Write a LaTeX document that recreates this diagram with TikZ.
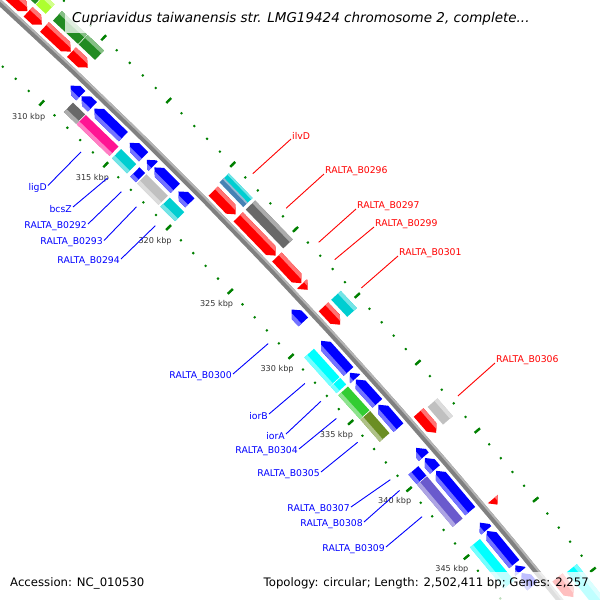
\documentclass[tikz,border=0pt]{standalone}
\usepackage{fontspec}
\setmainfont{DejaVu Sans}
\usetikzlibrary{calc}
\definecolor{cogblue}{RGB}{0,0,255}
\definecolor{cogred}{RGB}{255,0,0}
\definecolor{forest}{RGB}{34,139,34}
\definecolor{yellowgr}{RGB}{173,255,47}
\definecolor{dimgr}{RGB}{105,105,105}
\definecolor{deeppink}{RGB}{255,20,147}
\definecolor{turq}{RGB}{0,206,209}
\definecolor{aqua}{RGB}{0,255,255}
\definecolor{silvergr}{RGB}{192,192,192}
\definecolor{steel}{RGB}{70,130,180}
\definecolor{limegr}{RGB}{50,205,50}
\definecolor{olivedr}{RGB}{107,142,35}
\definecolor{slate}{RGB}{106,90,205}
\definecolor{tickgreen}{RGB}{0,128,0}
\definecolor{bbdark}{RGB}{128,128,128}
\definecolor{bblight}{RGB}{180,180,180}
\pgfmathdeclarefunction{kpos}{1}{\pgfmathparse{0.1943*(#1-315)}}
\tikzset{
  every picture/.append style={line join=round},
  backbone/.style={draw=bbdark,line width=6pt},
  backbone hi/.style={draw=bblight,line width=2pt},
  minor tick/.style={draw=tickgreen,line width=2pt,line cap=butt},
  major tick/.style={draw=tickgreen,line width=2.4pt,line cap=butt},
  kbp label/.style={font=\fontsize{8.1}{10}\selectfont,text=black!80,inner sep=0pt},
  gene label/.style={font=\fontsize{9.3}{11}\selectfont,inner sep=1pt},
  rev label/.style={gene label,text=cogblue,anchor=east},
  fwd label/.style={gene label,text=cogred,anchor=west},
  rev line/.style={draw=cogblue,line width=0.9pt},
  fwd line/.style={draw=cogred,line width=0.9pt},
  haze/.style={fill=white,opacity=0.75}
}
% box: from, to, radius next to backbone, outer radius, colour
\newcommand{\genebox}[5]{%
  \pgfmathsetmacro{\kA}{kpos(#1)}\pgfmathsetmacro{\kB}{kpos(#2)}%
  \pgfmathsetmacro{\rH}{#4-0.3*(#4-#3)}%
  \fill[#5] (\kA:#3) -- (\kB:#3) -- (\kB:#4) -- (\kA:#4) -- cycle;
  \fill[#5!55!white] (\kA:\rH) -- (\kB:\rH) -- (\kB:#4) -- (\kA:#4) -- cycle;}
% arrow pointing to #2
\newcommand{\fwdgene}[5]{%
  \pgfmathsetmacro{\kA}{kpos(#1)}\pgfmathsetmacro{\kB}{kpos(#2)}%
  \pgfmathsetmacro{\kC}{kpos(max(#1,#2-0.4))}%
  \pgfmathsetmacro{\rM}{(#3+#4)/2}\pgfmathsetmacro{\rH}{#4-0.3*(#4-#3)}%
  \begin{scope}
    \fill[#5] (\kA:#3) -- (\kC:#3) -- (\kB:\rM) -- (\kC:#4) -- (\kA:#4) -- cycle;
    \clip (\kA:#3) -- (\kC:#3) -- (\kB:\rM) -- (\kC:#4) -- (\kA:#4) -- cycle;
    \fill[#5!55!white] (\kA:\rH) -- (\kB:\rH) -- (\kB:#4) -- (\kA:#4) -- cycle;
  \end{scope}}
% arrow pointing to #1
\newcommand{\revgene}[5]{%
  \pgfmathsetmacro{\kA}{kpos(#1)}\pgfmathsetmacro{\kB}{kpos(#2)}%
  \pgfmathsetmacro{\kC}{kpos(min(#2,#1+0.4))}%
  \pgfmathsetmacro{\rM}{(#3+#4)/2}\pgfmathsetmacro{\rH}{#4-0.3*(#4-#3)}%
  \begin{scope}
    \fill[#5] (\kB:#3) -- (\kC:#3) -- (\kA:\rM) -- (\kC:#4) -- (\kB:#4) -- cycle;
    \clip (\kB:#3) -- (\kC:#3) -- (\kA:\rM) -- (\kC:#4) -- (\kB:#4) -- cycle;
    \fill[#5!55!white] (\kA:\rH) -- (\kB:\rH) -- (\kB:#4) -- (\kA:#4) -- cycle;
  \end{scope}}
\newcommand{\fwdarrow}[3]{\fwdgene{#1}{#2}{5294}{5307}{#3}}
\newcommand{\fwdbox}[3]{\genebox{#1}{#2}{5311}{5324}{#3}}
\newcommand{\revarrow}[3]{\revgene{#1}{#2}{5282}{5269}{#3}}
\newcommand{\revbox}[3]{\genebox{#1}{#2}{5265}{5252}{#3}}

\begin{document}
\begin{tikzpicture}[x=1pt,y=-1pt]
  \useasboundingbox (0,0) rectangle (600,600);
  \clip (0,0) rectangle (600,600);
  \begin{scope}[shift={(-3567,3906)},rotate=45.53]
    \draw [backbone] plot [domain=300:356,samples=40] ({kpos(\x)}:5288);
    \draw [backbone hi] plot [domain=300:356,samples=40] ({kpos(\x)}:5290);
    \foreach \k in {300,...,356} {
      \draw [minor tick] ({kpos(\k)}:5242) -- ({kpos(\k)}:5244);
      \draw [minor tick] ({kpos(\k)}:5332) -- ({kpos(\k)}:5334);
    }
    \foreach \k in {300,305,...,355} {
      \draw [major tick] ({kpos(\k)}:5239.5) -- ({kpos(\k)}:5246.5);
      \draw [major tick] ({kpos(\k)}:5329.5) -- ({kpos(\k)}:5336.5);
    }
    \foreach \k in {310,315,...,345}
      \node [kbp label] at ({kpos(\k)}:5224) {\k\ kbp};

    \fwdarrow{303.5}{305.9}{cogred}
    \fwdarrow{305.95}{307}{cogred}
    \fwdarrow{307.2}{309.2}{cogred}
    \fwdarrow{309.25}{310.5}{cogred}
    \fwdarrow{320.3}{322.1}{cogred}
    \fwdarrow{322.3}{325.3}{cogred}
    \fwdarrow{325.4}{327.4}{cogred}
    \fwdarrow{327.45}{327.9}{cogred}
    \fwdarrow{329.2}{330.55}{cogred}
    \fwdarrow{337.1}{338.6}{cogred}
    \fwdarrow{343.45}{343.85}{cogred}
    \fwdarrow{349.1}{350.5}{cogred}

    \fwdbox{304}{305.95}{forest}
    \fwdbox{306}{306.75}{yellowgr}
    \fwdbox{307.3}{309.2}{forest}
    \fwdbox{309.25}{310.5}{forest}
    \genebox{320.2}{322.1}{5311}{5317.5}{steel}
    \genebox{320.2}{322.1}{5317.5}{5324}{turq}
    \fwdbox{322.3}{325.3}{dimgr}
    \fwdbox{329.2}{330.5}{turq}
    \fwdbox{337.2}{338.5}{silvergr}
    \fwdbox{349.2}{352}{aqua}

    \revarrow{310.5}{311.3}{cogblue}
    \revarrow{311.35}{312.2}{cogblue}
    \revarrow{312.35}{314.6}{cogblue}
    \revarrow{315.1}{316.2}{cogblue}
    \revarrow{316.45}{316.95}{cogblue}
    \revarrow{317.05}{318.7}{cogblue}
    \revarrow{318.95}{319.85}{cogblue}
    \revarrow{328.1}{329.05}{cogblue}
    \revarrow{330.5}{332.8}{cogblue}
    \revarrow{332.9}{333.35}{cogblue}
    \revarrow{333.4}{335.2}{cogblue}
    \revarrow{335.3}{337}{cogblue}
    \revarrow{338.5}{339.15}{cogblue}
    \revarrow{339.25}{340.1}{cogblue}
    \revarrow{340.2}{343.15}{cogblue}
    \revarrow{344}{344.55}{cogblue}
    \revarrow{344.6}{347}{cogblue}
    \revarrow{347.1}{347.55}{cogblue}
    \revarrow{347.65}{348.6}{cogblue}

    \revbox{311.25}{312.2}{dimgr}
    \revbox{312.25}{314.8}{deeppink}
    \revbox{315}{316.2}{turq}
    \revbox{316.45}{316.9}{cogblue}
    \revbox{317}{318.7}{silvergr}
    \revbox{318.85}{320}{turq}
    \revbox{330.55}{332.7}{aqua}
    \revbox{332.75}{333.25}{aqua}
    \revbox{333.4}{335.2}{limegr}
    \revbox{335.25}{336.9}{olivedr}
    \revbox{339.35}{340.05}{cogblue}
    \revbox{340.1}{343.2}{slate}
    \revbox{344.7}{347.7}{aqua}

    \coordinate (ligD-end) at ({kpos(313.5)}:5235);
    \coordinate (bcsZ-end) at ({kpos(315.6)}:5235);
    \coordinate (b0292-end) at ({kpos(316.7)}:5235);
    \coordinate (b0293-end) at ({kpos(317.9)}:5235);
    \coordinate (b0294-end) at ({kpos(319.4)}:5235);
    \coordinate (b0300-end) at ({kpos(328.6)}:5235);
    \coordinate (iorB-end) at ({kpos(331.65)}:5235);
    \coordinate (iorA-end) at ({kpos(333)}:5235);
    \coordinate (b0304-end) at ({kpos(334.3)}:5235);
    \coordinate (b0305-end) at ({kpos(336.1)}:5235);
    \coordinate (b0307-end) at ({kpos(338.9)}:5235);
    \coordinate (b0308-end) at ({kpos(339.7)}:5235);
    \coordinate (b0309-end) at ({kpos(341.65)}:5235);
    \coordinate (ilvD-end) at ({kpos(321.15)}:5341);
    \coordinate (b0296-end) at ({kpos(323.8)}:5341);
    \coordinate (b0297-end) at ({kpos(326.4)}:5341);
    \coordinate (b0299-end) at ({kpos(327.7)}:5341);
    \coordinate (b0301-end) at ({kpos(329.85)}:5341);
    \coordinate (b0306-end) at ({kpos(337.85)}:5341);
  \end{scope}

  \node [rev label] (ligD) at (48,187.5) {ligD};
  \node [rev label] (bcsZ) at (73,209) {bcsZ};
  \node [rev label] (b0292) at (88,226) {RALTA\_B0292};
  \node [rev label] (b0293) at (104,242.5) {RALTA\_B0293};
  \node [rev label] (b0294) at (121,261) {RALTA\_B0294};
  \node [rev label] (b0300) at (233,376) {RALTA\_B0300};
  \node [rev label] (iorB) at (269,416) {iorB};
  \node [rev label] (iorA) at (286,436) {iorA};
  \node [rev label] (b0304) at (299,451) {RALTA\_B0304};
  \node [rev label] (b0305) at (321,474) {RALTA\_B0305};
  \node [rev label] (b0307) at (351,509) {RALTA\_B0307};
  \node [rev label] (b0308) at (364,524) {RALTA\_B0308};
  \node [rev label] (b0309) at (386,549) {RALTA\_B0309};
  \node [fwd label] (ilvD) at (291,136) {ilvD};
  \node [fwd label] (b0296) at (324,171) {RALTA\_B0296};
  \node [fwd label] (b0297) at (356,206) {RALTA\_B0297};
  \node [fwd label] (b0299) at (374,224) {RALTA\_B0299};
  \node [fwd label] (b0301) at (398,253) {RALTA\_B0301};
  \node [fwd label] (b0306) at (495,360) {RALTA\_B0306};

  \foreach \g in {ligD,bcsZ,b0292,b0293,b0294,b0300,iorB,iorA,b0304,b0305,b0307,b0308,b0309}
    \draw [rev line] (\g-end) -- ([yshift=2pt]\g.east);
  \foreach \g in {ilvD,b0296,b0297,b0299,b0301,b0306}
    \draw [fwd line] (\g-end) -- ([yshift=-3pt]\g.west);

  \fill [haze] (65,0) rectangle (600,33);
  \fill [haze] (0,572) rectangle (600,600);
  \node [anchor=base west,inner sep=0pt,font=\fontsize{13.5}{16}\selectfont\itshape] (title) at (72,22)
    {Cupriavidus taiwanensis str. LMG19424 chromosome 2, complete...};
  \node [anchor=base west,inner sep=0pt,font=\fontsize{11.7}{14}\selectfont] (accession) at (10,586)
    {Accession: NC\_010530};
  \node [anchor=base east,inner sep=0pt,font=\fontsize{11.7}{14}\selectfont] (topology) at (589,586)
    {Topology: circular; Length: 2,502,411 bp; Genes: 2,257};
\end{tikzpicture}
\end{document}
